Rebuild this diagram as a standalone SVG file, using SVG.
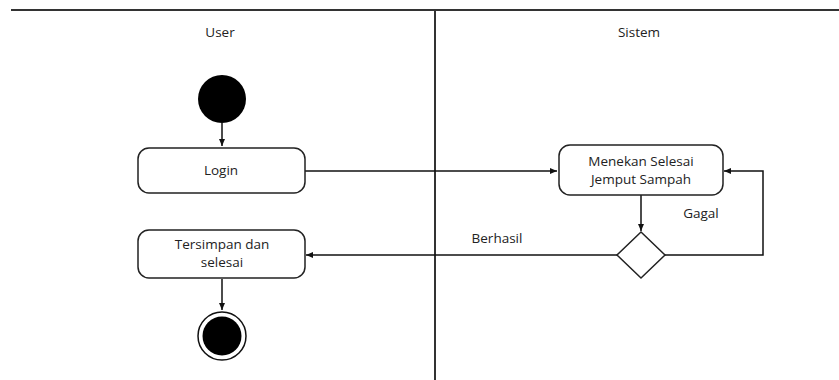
<svg xmlns="http://www.w3.org/2000/svg" width="839" height="380" viewBox="0 0 839 380">
<defs>
<marker id="arr" markerWidth="8" markerHeight="8" refX="7" refY="4" orient="auto" markerUnits="userSpaceOnUse">
<path d="M0,1 L7,4 L0,7 Z" fill="#111"/>
</marker>
<style>
.lane{stroke:#333;stroke-width:2;fill:none}
.box{fill:#fff;stroke:#222;stroke-width:1.5}
.t{font-family:"Open Sans","Liberation Sans",sans-serif;font-size:13.5px;fill:#222;text-anchor:middle}
.c{stroke:#111;stroke-width:1.5;fill:none}
</style>
</defs>
<rect width="839" height="380" fill="#fff"/>
<g id="swimlanes">
<line class="lane" x1="11" y1="10" x2="839" y2="10"/>
<line class="lane" x1="435" y1="10" x2="435" y2="380"/>
<text class="t" x="220" y="37">User</text>
<text class="t" x="639" y="37">Sistem</text>
</g>
<g id="connectors">
<line class="c" x1="222" y1="123" x2="222" y2="146" marker-end="url(#arr)"/>
<line class="c" x1="305" y1="171" x2="557" y2="171" marker-end="url(#arr)"/>
<line class="c" x1="641" y1="195" x2="641" y2="231" marker-end="url(#arr)"/>
<polyline class="c" points="665,255 763,255 763,171 724,171" marker-end="url(#arr)"/>
<line class="c" x1="617" y1="255" x2="306" y2="255" marker-end="url(#arr)"/>
<line class="c" x1="222" y1="279" x2="222" y2="310" marker-end="url(#arr)"/>
<text class="t" x="701" y="218">Gagal</text>
<text class="t" x="497" y="243">Berhasil</text>
</g>
<g id="start">
<circle cx="222" cy="99" r="24" fill="#000"/>
</g>
<g id="login">
<rect class="box" x="138" y="148" width="167" height="45" rx="11"/>
<text class="t" x="221" y="175">Login</text>
</g>
<g id="menekan">
<rect class="box" x="559" y="145" width="164" height="50" rx="11"/>
<text class="t" x="641" y="166">Menekan Selesai</text>
<text class="t" x="641" y="184">Jemput Sampah</text>
</g>
<g id="decision">
<polygon points="641,232 665,255 641,278 617,255" fill="#fff" stroke="#222" stroke-width="1.5"/>
</g>
<g id="tersimpan">
<rect class="box" x="138" y="230" width="167" height="48" rx="11"/>
<text class="t" x="222" y="249">Tersimpan dan</text>
<text class="t" x="222" y="267">selesai</text>
</g>
<g id="end">
<circle cx="222" cy="336" r="24" fill="#fff" stroke="#111" stroke-width="1.5"/>
<circle cx="222" cy="336" r="19.5" fill="#000"/>
</g>
</svg>
